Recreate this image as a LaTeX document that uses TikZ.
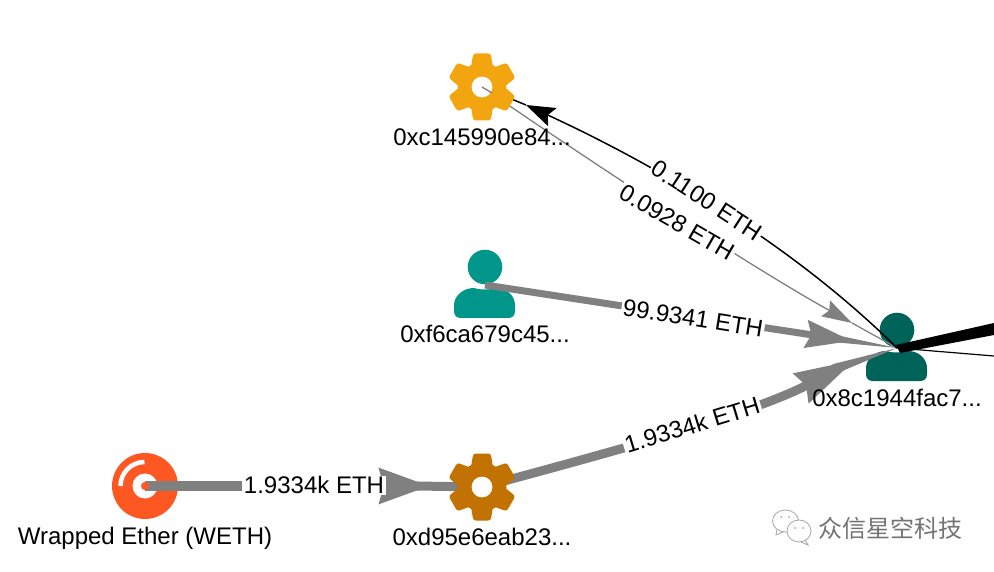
\documentclass[tikz,border=0pt]{standalone}
\usepackage{fontspec}
\setmainfont{Liberation Sans}
\newfontfamily\cjkfont{Noto Sans CJK SC}
\usepackage{tikz}
\usetikzlibrary{arrows.meta}
\usetikzlibrary{positioning}
\usetikzlibrary{calc}
\definecolor{edgegray}{HTML}{808080}
\definecolor{goldgear}{HTML}{F3A50F}
\definecolor{browngear}{HTML}{C17200}
\definecolor{tealuser}{HTML}{00978A}
\definecolor{darkuser}{HTML}{00635A}
\definecolor{wethred}{HTML}{FF5722}
\newcommand{\taperedge}[4]{\fill[#4] ($(#1)!#3!90:(#2)$) -- (#2.center) -- ($(#1)!#3!-90:(#2)$) -- cycle;}
\begin{document}
\begin{tikzpicture}
    [x=1pt,y=-1pt,
hubnode/.style={circle, inner sep=0pt, minimum size=0pt},
iconlabel/.style={inner sep=0pt, font=\fontsize{24}{24}\selectfont, text height=17.5pt, text depth=5pt},
edgelabel/.style={fill=white, inner xsep=1.5pt, inner ysep=0.5pt, font=\fontsize{24}{24}\selectfont, text height=17.5pt, text depth=0.5pt},
gear/.pic={
  \fill[pic actions] (0,0) circle[radius=24.5pt];
  \foreach \a in {0,60,...,300}{
    \fill[pic actions,rotate=\a,rounded corners=2.5pt] (-11,-20) -- (-8.7,-33.5) -- (8.7,-33.5) -- (11,-20) -- cycle;
  }
  \fill[white] (0,0) circle[radius=10.4pt];
},
person/.pic={
  \fill[pic actions] (0,-18) circle[radius=17.3pt];
  \fill[pic actions] (-31,20) .. controls (-31,11) and (-22,3) .. (-11,3) .. controls (-5,5) and (5,5) .. (11,3) .. controls (22,3) and (30,11) .. (30,20) -- (30,26) .. controls (30,31) and (27,33) .. (23,33) -- (-24,33) .. controls (-28,33) and (-31,31) .. (-31,26) -- cycle;
}
]
\useasboundingbox (0,0) rectangle (994,572);
\node[hubnode](weth) at (145,486){};
\node[hubnode](gearb) at (482,487){};
\node[hubnode](gearg) at (482,87){};
\node[hubnode](usert) at (485,285){};
\node[hubnode](userd) at (897,348){};
\coordinate (rightup) at (994,329);
\coordinate (rightdown) at (994,356);
\coordinate (wethtip) at (430,486);
\coordinate (wethtail) at (416,486);
\coordinate (usertip) at (852,341);
\coordinate (usertail) at (838,339);
\coordinate (geartip) at (855,360);
\coordinate (geartail) at (834,369);
\coordinate (greytip) at (852,323);
\coordinate (blacktip) at (526,105);

% icons below the edges
\fill[wethred] (weth) circle[radius=33pt];
\fill[white] (weth) circle[radius=12.5pt];
\draw[white,line width=4.5pt] (120.5,486) arc[start angle=180,end angle=90,radius=24pt];
\pic[fill=tealuser] at (usert) {person};
\pic[fill=darkuser] at (userd) {person};

\draw[edgegray,line width=10pt,-{Stealth[length=50pt,width=34pt,inset=4pt]}] (weth.center) -- (wethtip);
\draw[edgegray,line width=9pt] (wethtail) -- (gearb.center);
\fill[wethred] (weth) circle[radius=4pt];
\draw[edgegray,line width=7pt,-{Stealth[length=46pt,width=27pt,inset=5pt]}] (usert.center) -- (usertip);
\taperedge{usertail}{userd}{3.5pt}{edgegray}
\draw[edgegray,line width=9pt,-{Stealth[length=60pt,width=32pt,inset=5pt]}] (gearb.center) .. controls (600,455) and (750,415) .. (geartip);
\taperedge{geartail}{userd}{5pt}{edgegray}
\draw[edgegray,line width=1.3pt,-{Stealth[length=30pt,width=18pt,inset=4pt]}] (gearg.center) .. controls (610,175) and (760,272) .. (greytip);
\draw[edgegray,line width=1.3pt] (greytip) -- (userd.center);
\draw[black,line width=1.5pt,-{Stealth[length=29pt,width=20pt,inset=5pt]}] (userd.center) .. controls (780,232) and (630,153) .. (blacktip);
\draw[black,line width=1.5pt] (blacktip) -- (gearg.center);
\fill[black] ($(userd)+(-1,-3)$) -- ($(rightup)+(0,-6)$) -- ($(rightup)+(0,6)$) -- ($(userd)+(3,5)$) -- cycle;
\draw[black,line width=1.2pt] (userd.center) -- (rightdown);

% gears above the edges
\pic[fill=goldgear] at (gearg) {gear};
\pic[fill=browngear] at (gearb) {gear};
\draw[edgegray,line width=1.3pt] (gearg.center) -- ++(10,6);

\node[iconlabel](wethlabel)[below=41pt of weth]{Wrapped Ether (WETH)};
\node[iconlabel](gearblabel)[below=41pt of gearb]{0xd95e6eab23...};
\node[iconlabel](gearglabel)[below=41pt of gearg]{0xc145990e84...};
\node[iconlabel](usertlabel)[below=40pt of usert]{0xf6ca679c45...};
\node[iconlabel](userdlabel)[below=41pt of userd]{0x8c1944fac7...};

\node[edgelabel,rotate=-33](labelblack) at (707,200){0.1100 ETH};
\node[edgelabel,rotate=-30](labelgrey) at (677,222){0.0928 ETH};
\node[edgelabel,rotate=-9](labeluser) at (693,318){99.9341 ETH};
\node[edgelabel,rotate=17](labelgear) at (692,425){1.9334k ETH};
\node[edgelabel](labelweth) at (314,485){1.9334k ETH};

% watermark
\draw[black!35,fill=white,line width=0.8pt] (785.5,521) ellipse[x radius=13pt,y radius=11pt];
\draw[black!35,line width=0.8pt] (777,529) -- (776,535) -- (783,532);
\draw[black!35,fill=white,line width=0.8pt] (799,531) ellipse[x radius=12pt,y radius=11pt];
\draw[black!35,line width=0.8pt] (805,540) -- (808,545) -- (801,542);
\foreach \x/\y in {781/517,789/517,795/528,803/528}{
  \fill[black!35] (\x,\y) circle[radius=1pt];
}
\node[hubnode](markname) at (890,528){\fontsize{24}{24}\selectfont\cjkfont\textcolor{black!55}{众信星空科技}};
\end{tikzpicture}
\end{document}
